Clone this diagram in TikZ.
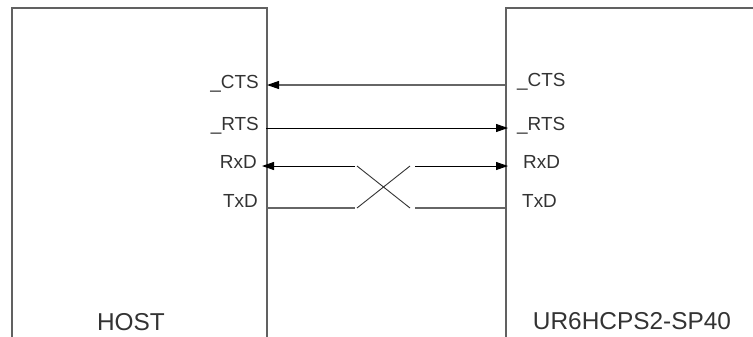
\documentclass[tikz,border=0pt]{standalone}
\usepackage{fontspec}
\setmainfont{Liberation Sans}
\usetikzlibrary{arrows.meta}

\begin{document}
\begin{tikzpicture}[x=1bp,y=-1bp,>={Triangle[length=12bp,width=8bp,color=black]},
                    line cap=butt]
  \tikzstyle{block}=[draw=black!62,line width=1.5bp,rectangle,inner sep=0pt,
                     anchor=north west]
  \tikzstyle{pin}=[font=\fontsize{19}{19}\selectfont,inner sep=0pt,text=black!80]
  \tikzstyle{title}=[font=\fontsize{24.5}{24.5}\selectfont,inner sep=0pt,
                     anchor=base,text=black!80]
  \tikzstyle{wire}=[line width=0.9bp,draw=black]
  \tikzstyle{greywire}=[line width=1.2bp,draw=black!60]
  \tikzstyle{crossing}=[line width=0.9bp,draw=black!80]

  \useasboundingbox (0,0) rectangle (753,336);

  % the two units
  \node[block,minimum width=255bp,minimum height=345bp] (host) at (11,7) {};
  \node[block,minimum width=260bp,minimum height=345bp] (dev)  at (505,7) {};
  \node[title] (hostname) at (131,330) {HOST};
  \node[title] (devname)  at (632,329) {UR6HCPS2-SP40};

  % pin names
  \node[pin,anchor=base east] (lcts) at (259,88)  {\_CTS};
  \node[pin,anchor=base east] (lrts) at (259,130) {\_RTS};
  \node[pin,anchor=base east] (lrxd) at (257,168) {RxD};
  \node[pin,anchor=base east] (ltxd) at (258,207) {TxD};
  \node[pin,anchor=base west] (rcts) at (517,86)  {\_CTS};
  \node[pin,anchor=base west] (rrts) at (517,130) {\_RTS};
  \node[pin,anchor=base west] (rrxd) at (523,168) {RxD};
  \node[pin,anchor=base west] (rtxd) at (522,207) {TxD};

  % pin points
  \coordinate (hcts) at (267,85);
  \coordinate (hrts) at (266,128);
  \coordinate (hrxd) at (262,166);
  \coordinate (htxd) at (266,208);
  \coordinate (dcts) at (505,85);
  \coordinate (drts) at (508,128);
  \coordinate (drxd) at (508,166);
  \coordinate (dtxd) at (505,208);
  \coordinate (xa) at (355,166);
  \coordinate (xb) at (355,208);
  \coordinate (xc) at (415,166);
  \coordinate (xd) at (415,208);
  \coordinate (ca) at (357,166);
  \coordinate (cb) at (357,208);
  \coordinate (cc) at (410,166);
  \coordinate (cd) at (410,208);

  \path
(dcts) edge [greywire,->]  (hcts)
(hrts) edge [wire,->]      (drts)
(xa)   edge [wire,->]      (hrxd)
(xc)   edge [wire,->]      (drxd)
(htxd) edge [greywire]     (xb)
(xd)   edge [greywire]     (dtxd)
(ca)   edge [crossing]     (cd)
(cb)   edge [crossing]     (cc);
\end{tikzpicture}
\end{document}
